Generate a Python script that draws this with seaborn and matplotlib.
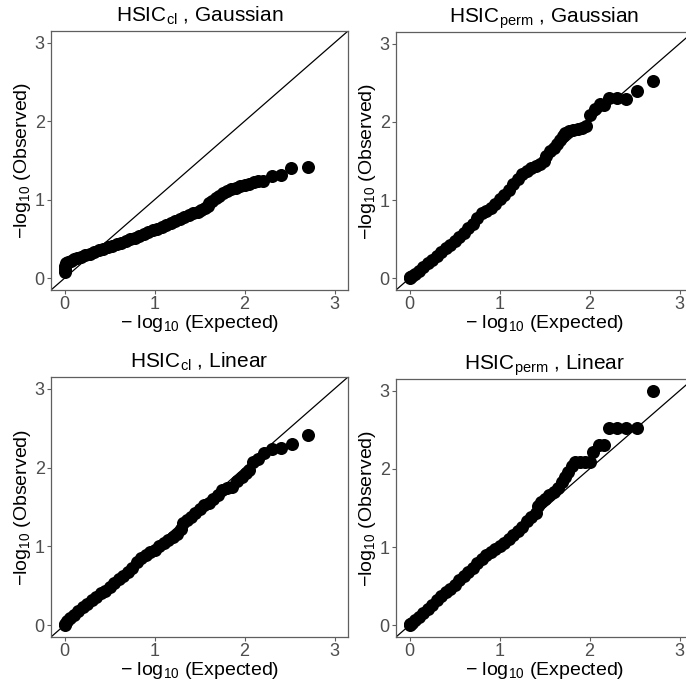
import numpy as np
import pandas as pd
import matplotlib
matplotlib.use("Agg")
import matplotlib.pyplot as plt
import seaborn as sns

# ---------------- data ----------------
titles = [r"HSIC$_{\mathrm{cl}}$ , Gaussian", r"HSIC$_{\mathrm{perm}}$ , Gaussian",
          r"HSIC$_{\mathrm{cl}}$ , Linear", r"HSIC$_{\mathrm{perm}}$ , Linear"]

cl_gauss_exp = [0.0, 0.0, 0.01, 0.02, 0.04, 0.07, 0.10, 0.14, 0.18, 0.23, 0.28, 0.33, 0.38, 0.43,
                0.48, 0.53, 0.58, 0.63, 0.68, 0.73, 0.78, 0.83, 0.88, 0.93, 0.98, 1.03, 1.08, 1.13,
                1.18, 1.23, 1.28, 1.33, 1.38, 1.43, 1.48, 1.52, 1.56, 1.59, 1.61, 1.64, 1.68, 1.72,
                1.76, 1.80, 1.85, 1.90, 1.95, 2.00, 2.05, 2.10, 2.15, 2.21, 2.30, 2.40, 2.52, 2.70]
cl_gauss_obs = [0.08, 0.12, 0.16, 0.19, 0.21, 0.225, 0.24, 0.26, 0.275, 0.29, 0.31, 0.33, 0.355, 0.375,
                0.395, 0.415, 0.435, 0.455, 0.475, 0.495, 0.515, 0.535, 0.56, 0.585, 0.61, 0.63, 0.655, 0.68,
                0.70, 0.725, 0.75, 0.775, 0.80, 0.825, 0.85, 0.87, 0.89, 0.92, 0.96, 0.99, 1.02, 1.05,
                1.08, 1.11, 1.135, 1.155, 1.17, 1.185, 1.20, 1.22, 1.235, 1.24, 1.30, 1.32, 1.40, 1.42]

perm_gauss_exp = [0.0, 0.01, 0.03, 0.06, 0.10, 0.15, 0.20, 0.25, 0.30, 0.35, 0.40, 0.45, 0.50, 0.55,
                  0.60, 0.65, 0.70, 0.75, 0.80, 0.85, 0.90, 0.95, 1.00, 1.05, 1.10, 1.15, 1.20, 1.25,
                  1.30, 1.35, 1.40, 1.45, 1.49, 1.52, 1.56, 1.60, 1.64, 1.67, 1.70, 1.73, 1.77, 1.82,
                  1.87, 1.92, 1.96, 2.00, 2.06, 2.12, 2.16, 2.22, 2.31, 2.40, 2.53, 2.71]
perm_gauss_obs = [0.0, 0.01, 0.03, 0.055, 0.09, 0.14, 0.19, 0.24, 0.29, 0.335, 0.385, 0.43, 0.475, 0.525,
                  0.58, 0.64, 0.70, 0.77, 0.83, 0.865, 0.905, 0.955, 1.01, 1.06, 1.13, 1.20, 1.27, 1.33,
                  1.375, 1.41, 1.44, 1.46, 1.50, 1.57, 1.63, 1.67, 1.72, 1.77, 1.82, 1.86, 1.89, 1.90,
                  1.91, 1.92, 1.95, 2.09, 2.17, 2.23, 2.22, 2.30, 2.30, 2.29, 2.40, 2.52]

cl_lin_exp = [0.0, 0.01, 0.03, 0.06, 0.10, 0.15, 0.20, 0.25, 0.30, 0.35, 0.40, 0.45, 0.50, 0.55,
              0.60, 0.65, 0.70, 0.75, 0.80, 0.85, 0.90, 0.95, 1.00, 1.05, 1.10, 1.15, 1.20, 1.25,
              1.29, 1.32, 1.36, 1.40, 1.45, 1.50, 1.55, 1.60, 1.65, 1.70, 1.75, 1.80, 1.86, 1.92,
              1.97, 2.02, 2.05, 2.09, 2.15, 2.22, 2.30, 2.40, 2.53, 2.70]
cl_lin_obs = [0.0, 0.02, 0.05, 0.085, 0.13, 0.18, 0.225, 0.27, 0.315, 0.36, 0.405, 0.44, 0.48, 0.53,
              0.58, 0.625, 0.67, 0.73, 0.80, 0.85, 0.89, 0.925, 0.96, 1.00, 1.04, 1.08, 1.12, 1.16,
              1.22, 1.30, 1.34, 1.37, 1.42, 1.48, 1.52, 1.55, 1.60, 1.65, 1.71, 1.74, 1.76, 1.83,
              1.88, 1.93, 1.97, 2.07, 2.11, 2.19, 2.24, 2.25, 2.30, 2.41]

perm_lin_exp = [0.0, 0.01, 0.03, 0.06, 0.10, 0.15, 0.20, 0.25, 0.30, 0.35, 0.40, 0.45, 0.50, 0.55,
                0.60, 0.65, 0.70, 0.75, 0.80, 0.85, 0.90, 0.95, 1.00, 1.05, 1.10, 1.15, 1.20, 1.25,
                1.30, 1.35, 1.40, 1.43, 1.46, 1.50, 1.55, 1.60, 1.65, 1.69, 1.73, 1.76, 1.80, 1.84,
                1.89, 1.95, 2.00, 2.04, 2.10, 2.16, 2.22, 2.30, 2.40, 2.53, 2.71]
perm_lin_obs = [0.0, 0.01, 0.035, 0.065, 0.105, 0.155, 0.21, 0.265, 0.32, 0.37, 0.42, 0.47, 0.52, 0.575,
                0.63, 0.68, 0.735, 0.795, 0.85, 0.895, 0.94, 0.975, 1.01, 1.055, 1.10, 1.15, 1.21, 1.26,
                1.33, 1.38, 1.44, 1.52, 1.58, 1.62, 1.66, 1.70, 1.76, 1.83, 1.90, 1.96, 2.04, 2.09,
                2.09, 2.09, 2.09, 2.22, 2.31, 2.30, 2.52, 2.52, 2.52, 2.52, 3.0]

panels = [(cl_gauss_exp, cl_gauss_obs), (perm_gauss_exp, perm_gauss_obs),
          (cl_lin_exp, cl_lin_obs), (perm_lin_exp, perm_lin_obs)]
tick_vals = [0, 1, 2, 3]
tick_labels = ["0", "1", "2", "3"]
x_label = "\u2212 log$_{10}$ (Expected)"
y_label = "\u2212log$_{10}$ (Observed)"

# ---------------- style ----------------
sns.set_style("white")
plt.rcParams["font.family"] = ["Liberation Sans", "DejaVu Sans"]
plt.rcParams["mathtext.fontset"] = "custom"
plt.rcParams["mathtext.rm"] = "Liberation Sans"
plt.rcParams["mathtext.it"] = "Liberation Sans:italic"
plt.rcParams["mathtext.bf"] = "Liberation Sans:bold"

W, H = 686, 685
fig = plt.figure(figsize=(W / 100, H / 100), dpi=100)
fig.patch.set_facecolor("white")

# axes boxes in pixels: (left, top, right, bottom)
boxes = [(51, 31, 348, 290), (396, 32, 693, 290),
         (51, 377, 348, 637), (396, 379, 693, 637)]

frame_col = "#5f5f5f"
tick_col = "#4D4D4D"

for (xs, ys), title, (l, t, r, b) in zip(panels, titles, boxes):
    ax = fig.add_axes([l / W, 1 - b / H, (r - l) / W, (b - t) / H])
    df = pd.DataFrame({"expected": xs, "observed": ys})
    ax.axline((0, 0), slope=1, color="black", lw=0.9, zorder=1)
    sns.scatterplot(data=df, x="expected", y="observed", ax=ax, color="black",
                    s=88, linewidth=0, zorder=2, legend=False)
    ax.set_xlim(-0.15, 3.15)
    ax.set_ylim(-0.15, 3.15)
    ax.set_xticks(tick_vals)
    ax.set_xticklabels(tick_labels)
    ax.set_yticks(tick_vals)
    ax.set_yticklabels(tick_labels)
    ax.tick_params(axis="both", which="both", direction="out", length=3, width=0.8,
                   colors=frame_col, labelcolor=tick_col, labelsize=13, pad=1.5,
                   bottom=True, left=True)
    for sp in ax.spines.values():
        sp.set_color(frame_col)
        sp.set_linewidth(0.9)
        sp.set_visible(True)
    ax.set_xlabel(x_label, fontsize=14, color="black", labelpad=0)
    ax.set_ylabel(y_label, fontsize=14, color="black", labelpad=1)
    ax.set_title(title, fontsize=15, color="black", pad=7)
    ax.grid(False)

fig.savefig("out.png", dpi=100, facecolor="white")
